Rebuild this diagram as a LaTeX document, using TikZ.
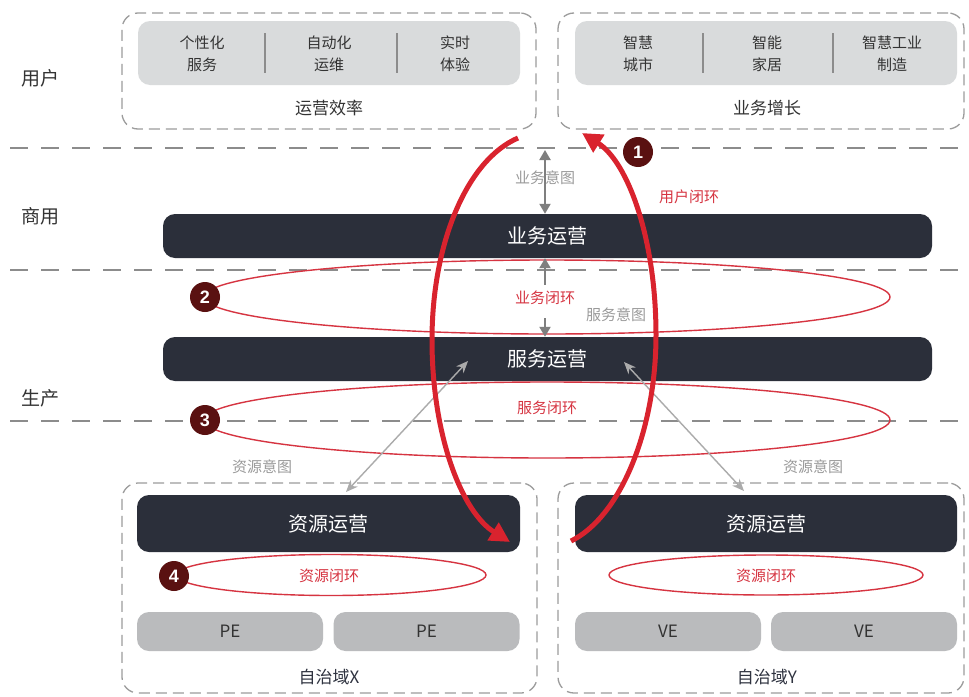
\documentclass[tikz,border=0pt]{standalone}
\usepackage{fontspec}
\setmainfont{Noto Sans CJK SC}
\newfontfamily\badgefont{Liberation Sans}
\usetikzlibrary{arrows.meta,calc}
\definecolor{barc}{HTML}{2B2F3A}
\definecolor{lightbox}{HTML}{D9DBDC}
\definecolor{pebox}{HTML}{BABBBD}
\definecolor{redc}{HTML}{D9232E}
\definecolor{ellc}{HTML}{D63441}
\definecolor{badgec}{HTML}{5A1111}
\definecolor{dashc}{HTML}{8C8C8C}
\definecolor{boxdash}{HTML}{9C9C9C}
\definecolor{txtc}{HTML}{333333}
\definecolor{bottxt}{HTML}{2F3340}
\definecolor{graytxt}{HTML}{9A9A9A}
\definecolor{arrowdark}{HTML}{7F7F7F}
\definecolor{arrowlight}{HTML}{ABABAB}
\begin{document}
\begin{tikzpicture}[x=1pt,y=1pt,
  t15/.style={font=\fontsize{15}{22}\selectfont},
  t17/.style={font=\fontsize{17}{20}\selectfont},
  t19/.style={font=\fontsize{19}{22}\selectfont},
  t20/.style={font=\fontsize{20}{24}\selectfont},
  hline/.style={draw=dashc,line width=1.8pt,dash pattern=on 18pt off 13pt},
  dbox/.style={draw=boxdash,line width=1.3pt,dash pattern=on 11pt off 6pt,rounded corners=16pt,inner sep=0pt},
  bar/.style={fill=barc,rounded corners=12pt,inner sep=0pt,text=white,t20},
  gbox/.style={fill=lightbox,rounded corners=12pt,inner sep=0pt},
  pbox/.style={fill=pebox,rounded corners=12pt,inner sep=0pt,text=txtc,t17,minimum width=186pt,minimum height=39pt},
  ell/.style={draw=ellc,line width=1.4pt},
  badge/.style={circle,fill=badgec,text=white,minimum size=30pt,inner sep=0pt,font=\badgefont\bfseries\fontsize{18}{18}\selectfont},
  varrow/.style={draw=arrowdark,line width=2pt,{Triangle[length=10pt,width=11pt]}-{Triangle[length=10pt,width=11pt]}},
  uarrow/.style={draw=arrowdark,line width=2pt,-{Triangle[length=10pt,width=11pt]}},
  darrow/.style={draw=arrowlight,line width=1.4pt,{Stealth[length=12pt,width=10pt]}-{Stealth[length=12pt,width=10pt]}},
  loopar/.style={draw=redc,line width=5pt,-{Triangle[length=20pt,width=20pt]}},
  divider/.style={draw=dashc,line width=1.2pt},
  lbl/.style={text=txtc,t19},
  graylbl/.style={text=graytxt,t15},
  redlbl/.style={text=ellc,t15}
]
\useasboundingbox (0,0) rectangle (969,-696);
\fill[white] (0,0) rectangle (969,-696);

% layer separators
\draw[hline] (10,-148) -- (969,-148);
\draw[hline] (10,-270) -- (969,-270);
\draw[hline] (10,-421) -- (969,-421);

% layer labels
\node[lbl] (luser) at (40,-78) {用户};
\node[lbl] (lbiz) at (40,-216) {商用};
\node[lbl] (lprod) at (40,-398) {生产};

% top boxes
\node[dbox,minimum width=414pt,minimum height=116pt] (boxeff) at (329,-71) {};
\node[gbox,minimum width=382pt,minimum height=64pt] (geff) at (329,-53) {};
\node[t15,text=txtc,align=center] (e1) at (202,-54) {个性化\\服务};
\node[t15,text=txtc,align=center] (e2) at (329,-54) {自动化\\运维};
\node[t15,text=txtc,align=center] (e3) at (455,-54) {实时\\体验};
\draw[divider] (265,-33) -- (265,-73);
\draw[divider] (397,-33) -- (397,-73);
\node[t17,text=txtc] (effl) at (329,-108) {运营效率};

\node[dbox,minimum width=406pt,minimum height=116pt] (boxgrow) at (761,-71) {};
\node[gbox,minimum width=382pt,minimum height=64pt] (ggrow) at (766,-53) {};
\node[t15,text=txtc,align=center] (g1) at (638,-54) {智慧\\城市};
\node[t15,text=txtc,align=center] (g2) at (767,-54) {智能\\家居};
\node[t15,text=txtc,align=center] (g3) at (892,-54) {智慧工业\\制造};
\draw[divider] (703,-33) -- (703,-73);
\draw[divider] (833,-33) -- (833,-73);
\node[t17,text=txtc] (growl) at (767,-108) {业务增长};

% bars
\node[bar,minimum width=769pt,minimum height=44pt] (bizbar) at (547.5,-236) {业务运营};
\node[bar,minimum width=769pt,minimum height=44pt] (svcbar) at (547.5,-359) {服务运营};

% bottom boxes
\node[dbox,minimum width=415pt,minimum height=210pt] (domx) at (329.5,-588) {};
\node[dbox,minimum width=406pt,minimum height=210pt] (domy) at (761,-588) {};
\node[bar,minimum width=383pt,minimum height=57pt] (resx) at (328.5,-523.5) {资源运营};
\node[bar,minimum width=382pt,minimum height=57pt] (resy) at (766,-523.5) {资源运营};
\node[pbox] (pe1) at (230,-631.5) {PE};
\node[pbox] (pe2) at (426.5,-631.5) {PE};
\node[pbox] (ve1) at (668,-631.5) {VE};
\node[pbox] (ve2) at (864,-631.5) {VE};
\node[t17,text=bottxt] (domxl) at (329,-677) {自治域X};
\node[t17,text=bottxt] (domyl) at (767,-677) {自治域Y};

% loops (ellipses)
\draw[ell] (547,-297) ellipse [x radius=343, y radius=37];
\draw[ell] (547,-420) ellipse [x radius=343, y radius=38];
\draw[ell] (331,-575) ellipse [x radius=155, y radius=20.5];
\draw[ell] (766,-575) ellipse [x radius=157, y radius=20];

% intent arrows
\coordinate (topline) at (545,-150);
\draw[varrow] (topline) -- (topline |- bizbar.north);
\node[graylbl] (bizint) at (545,-178) {业务意图};
\node[redlbl] (bizloop) at (545,-298) {业务闭环};
\draw[uarrow] ($(bizloop.north)+(0,3)$) -- (bizloop.north |- bizbar.south);
\draw[uarrow] ($(bizloop.south)+(0,-10)$) -- (bizloop.south |- svcbar.north);
\node[graylbl] (svcint) at (616,-315) {服务意图};
\node[redlbl] (svcloop) at (547,-408) {服务闭环};
\node[redlbl] (resloopx) at (329,-576) {资源闭环};
\node[redlbl] (resloopy) at (766,-576) {资源闭环};
\node[graylbl] (resintx) at (262,-467) {资源意图};
\node[graylbl] (resinty) at (813,-467) {资源意图};

\coordinate (svcL) at (468,-361);
\coordinate (svcR) at (624,-362);
\coordinate (resXt) at (346,-492);
\coordinate (resYt) at (744,-491);
\draw[darrow] (svcL) -- (resXt);
\draw[darrow] (svcR) -- (resYt);

% user loop (big red)
\coordinate (lpA) at (518,-138);
\coordinate (lpB) at (510,-542);
\coordinate (lpC) at (571,-541);
\coordinate (lpD) at (582,-133);
\draw[loopar] (lpA) .. controls (467,-160) and (432,-243) .. (432,-340)
  .. controls (432,-436) and (462,-512) .. (lpB);
\draw[loopar] (lpC) .. controls (620,-517) and (656,-431) .. (656,-335)
  .. controls (656,-239) and (628,-162) .. (lpD);
\node[redlbl] (userloop) at (689,-197) {用户闭环};

% badges
\node[badge] (b1) at (638,-152) {1};
\node[badge] (b2) at (205,-297) {2};
\node[badge] (b3) at (205,-420) {3};
\node[badge] (b4) at (174,-576) {4};
\end{tikzpicture}
\end{document}
